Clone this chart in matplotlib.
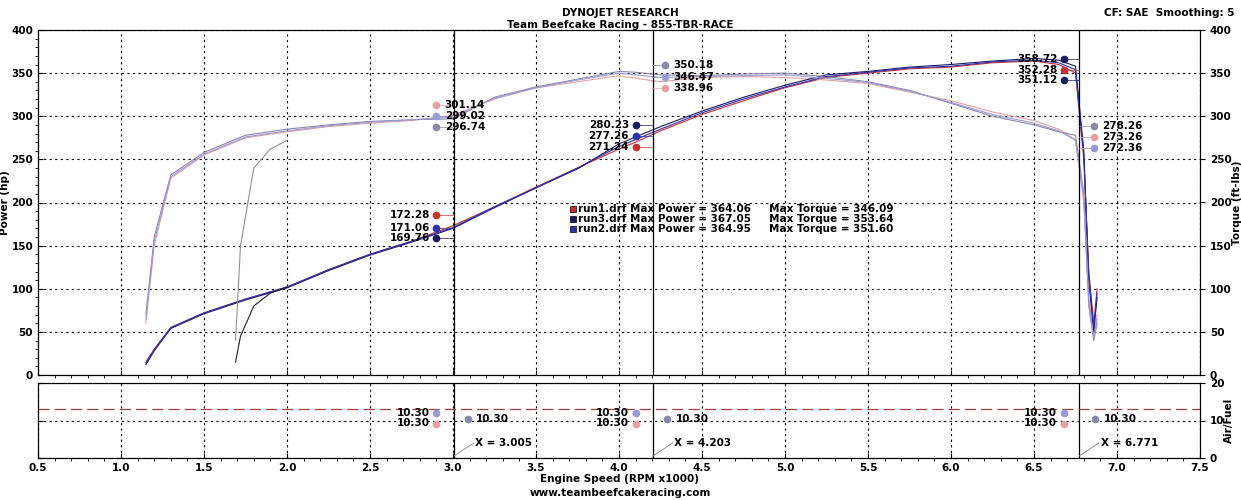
import numpy as np
import matplotlib.pyplot as plt

# engine speed grid (RPM x1000) for the sweep up to the drop
rpm = [1.15, 1.2, 1.3, 1.5, 1.75, 2.0, 2.25, 2.5, 2.75, 3.0, 3.25, 3.5, 3.75, 4.0, 4.1, 4.25,
       4.5, 4.75, 5.0, 5.25, 5.5, 5.75, 6.0, 6.25, 6.5, 6.65, 6.75, 6.8, 6.83, 6.86, 6.88]
run1_hp = [15, 30, 55, 72, 88, 102, 122, 140, 155, 173, 195, 218, 240, 262, 270, 283,
           302, 318, 333, 345, 350, 355, 357, 362, 364, 360, 350, 250, 120, 60, 100]
run3_hp = [12, 28, 54, 71, 87, 101, 121, 139, 154, 170, 194, 217, 239, 268, 276, 288,
           306, 322, 336, 348, 352, 357, 360, 364, 367, 365, 358, 260, 110, 50, 90]
run2_hp = [14, 29, 55, 72, 88, 102, 122, 140, 155, 171, 195, 217, 240, 265, 273, 285,
           304, 320, 334, 346, 351, 356, 358, 363, 365, 362, 354, 255, 115, 55, 95]
run1_tq = [60, 150, 228, 255, 275, 282, 288, 292, 295, 301, 320, 333, 340, 347, 344, 340,
           345, 346, 345, 342, 338, 328, 318, 305, 295, 285, 273, 200, 90, 45, 70]
run3_tq = [70, 160, 232, 258, 278, 285, 290, 294, 296, 297, 322, 334, 343, 352, 351, 348,
           347, 349, 350, 346, 340, 330, 315, 300, 290, 282, 278, 210, 80, 40, 60]
run2_tq = [65, 155, 230, 256, 276, 283, 289, 293, 296, 299, 321, 333, 342, 350, 348, 345,
           346, 347, 348, 344, 339, 329, 316, 302, 292, 283, 272, 205, 85, 42, 65]
# second (late start) sweep beginning near 1.7k
late_rpm = [1.69, 1.72, 1.8, 1.9, 2.0]
late_hp = [15, 45, 80, 95, 102]
late_tq = [40, 150, 240, 262, 272]

names = ["run1.drf", "run3.drf", "run2.drf"]
max_power = ["364.06", "367.05", "364.95"]
max_torque = ["346.09", "353.64", "351.60"]
hp_col = ["#c83030", "#1a1a60", "#3030b0"]
tq_col = ["#e8a0a0", "#8888a8", "#9a9ad8"]
cursors = [3.005, 4.203, 6.771]

plt.rcParams['font.family'] = ['DejaVu Sans']
plt.rcParams['font.weight'] = 'bold'
fig = plt.figure(figsize=(12.41, 5.0), dpi=100)
ax = fig.add_axes([38/1241, 1-375/500, 1162/1241, 345/500])
ax2 = fig.add_axes([38/1241, 1-458/500, 1162/1241, 75/500])

hps = [run1_hp, run3_hp, run2_hp]
tqs = [run1_tq, run3_tq, run2_tq]
for i in range(3):
    ax.plot(rpm, hps[i], color=hp_col[i], lw=0.8)
    ax.plot(rpm, tqs[i], color=tq_col[i], lw=0.8)
ax.plot(late_rpm, late_hp, color="#202020", lw=0.8)
ax.plot(late_rpm, late_tq, color="#909090", lw=0.8)

for a in (ax, ax2):
    a.set_xlim(0.5, 7.5)
    a.grid(True, ls=(0, (2, 3)), color="black", lw=0.8)
    for c in cursors:
        a.axvline(c, color="black", lw=0.9)
    a.tick_params(labelsize=7.5, direction="in", right=True)
    a.set_xticks(np.arange(0.5, 7.6, 0.5))
    a.set_xticks(np.arange(0.5, 7.55, 0.1), minor=True)
ax.set_ylim(0, 400)
ax.set_yticks(range(0, 401, 50))
ax.set_yticks(range(0, 401, 10), minor=True)
ax.tick_params(labelbottom=False)
ax.set_ylabel("Power (hp)", fontsize=7.5, fontweight="bold", labelpad=1)
axr = ax.twinx()
axr.set_ylim(0, 400)
axr.set_yticks(range(0, 401, 50))
axr.tick_params(labelsize=7.5)
axr.set_ylabel("Torque (ft-lbs)", fontsize=7.5, fontweight="bold", labelpad=0)

# cursor value labels
def tag(a, x, y, txt, col, side, cx):
    a.plot(x, y, "o", color=col, ms=4.5)
    a.plot([x, cx], [y, (y + 2 * np.mean([y])) / 3], color=col, lw=0.5)
    if side == "l":
        a.text(x - 0.04, y, txt, ha="right", va="center", fontsize=7.5)
    else:
        a.text(x + 0.05, y, txt, ha="left", va="center", fontsize=7.5)

tag(ax, 2.9, 185, "172.28", hp_col[0], "l", 3.0)
tag(ax, 2.9, 171, "171.06", hp_col[2], "l", 3.0)
tag(ax, 2.9, 159, "169.76", hp_col[1], "l", 3.0)
tag(ax, 2.9, 313, "301.14", tq_col[0], "r", 3.0)
tag(ax, 2.9, 300, "299.02", tq_col[2], "r", 3.0)
tag(ax, 2.9, 287, "296.74", tq_col[1], "r", 3.0)
tag(ax, 4.1, 290, "280.23", hp_col[1], "l", 4.2)
tag(ax, 4.1, 277, "277.26", hp_col[2], "l", 4.2)
tag(ax, 4.1, 264, "271.24", hp_col[0], "l", 4.2)
tag(ax, 4.28, 359, "350.18", tq_col[1], "r", 4.2)
tag(ax, 4.28, 346, "346.47", tq_col[2], "r", 4.2)
tag(ax, 4.28, 333, "338.96", tq_col[0], "r", 4.2)
tag(ax, 6.68, 366, "358.72", hp_col[1], "l", 6.77)
tag(ax, 6.68, 354, "352.28", hp_col[0], "l", 6.77)
tag(ax, 6.68, 342, "351.12", hp_col[1], "l", 6.77)
tag(ax, 6.86, 289, "278.26", tq_col[1], "r", 6.77)
tag(ax, 6.86, 276, "273.26", tq_col[0], "r", 6.77)
tag(ax, 6.86, 263, "272.36", tq_col[2], "r", 6.77)

for i in range(3):
    y = 193 - i * 12
    ax.plot(3.72, y, "s", color=hp_col[i], ms=5, mec="black", mew=0.5)
    ax.text(3.75, y, f"{names[i]} Max Power = {max_power[i]}     Max Torque = {max_torque[i]}",
            va="center", fontsize=7.5)

# air/fuel panel
ax2.set_ylim(0, 20)
ax2.set_yticks([0, 10, 20])
ax2.tick_params(labelleft=False)
ax2r = ax2.twinx()
ax2r.set_ylim(0, 20)
ax2r.set_yticks([0, 10, 20])
ax2r.tick_params(labelsize=7.5)
ax2r.set_ylabel("Air/Fuel", fontsize=7.5, fontweight="bold", labelpad=0)
ax2.axhline(13, color="#a04040", lw=0.9, ls=(0, (9, 4)))
for c, xl in zip(cursors, [2.9, 4.1, 6.68]):
    ax2.plot(xl, 12, "o", color=tq_col[2], ms=4.5)
    ax2.plot(xl, 9.2, "o", color=tq_col[0], ms=4.5)
    ax2.text(xl - 0.04, 12, "10.30", ha="right", va="center", fontsize=7.5)
    ax2.text(xl - 0.04, 9.2, "10.30", ha="right", va="center", fontsize=7.5)
    ax2.plot(xl + 0.19, 10.3, "o", color=tq_col[1], ms=4.5)
    ax2.text(xl + 0.24, 10.3, "10.30", ha="left", va="center", fontsize=7.5)
    ax2.plot([c, c + 0.12], [0.5, 4], color="#808080", lw=0.6)
    ax2.text(c + 0.13, 4, f"X = {c:.3f}", va="center", fontsize=7.5)
ax2.set_xticklabels([f"{v:.1f}" for v in np.arange(0.5, 7.6, 0.5)])
ax2.set_xlabel("Engine Speed (RPM x1000)", fontsize=7.5, fontweight="bold", labelpad=1)

fig.text(0.5, 0.985, "DYNOJET RESEARCH", ha="center", va="top", fontsize=7.5, fontweight="bold")
fig.text(0.5, 0.96, "Team Beefcake Racing - 855-TBR-RACE", ha="center", va="top", fontsize=7.5, fontweight="bold")
fig.text(0.995, 0.985, "CF: SAE  Smoothing: 5", ha="right", va="top", fontsize=7.5, fontweight="bold")
fig.text(0.5, 0.005, "www.teambeefcakeracing.com", ha="center", va="bottom", fontsize=7.5, fontweight="bold")

fig.savefig("out.png", dpi=100)
